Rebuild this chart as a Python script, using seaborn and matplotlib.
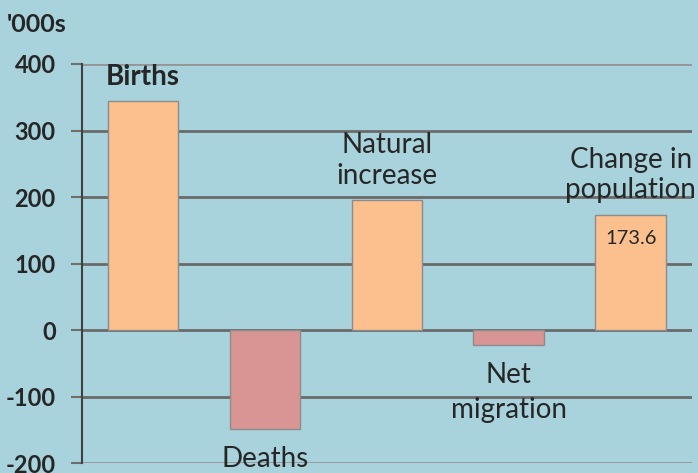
import seaborn as sns
import matplotlib.pyplot as plt

# population change components, thousands
categories = ["Births", "Deaths", "Natural\nincrease", "Net\nmigration", "Change in\npopulation"]
values = [344, -149, 196, -23, 173.6]
value_label = "173.6"
y_ticks = [-200, -100, 0, 100, 200, 300, 400]

bg = "#a8d3dc"
pos_col = "#fcc08f"
neg_col = "#d99594"
colors = [pos_col if v > 0 else neg_col for v in values]

sns.set_style("white")
plt.rcParams["font.family"] = ["Lato", "DejaVu Sans"]

fig = plt.figure(figsize=(6.98, 4.73), dpi=100, facecolor=bg)
ax = fig.add_axes([0.1175, 0.0211, 0.8735, 0.8436], facecolor=bg)

sns.barplot(x=categories, y=values, hue=categories, palette=colors, legend=False,
            width=0.58, edgecolor="#8c8c8c", linewidth=1, saturation=1, ax=ax, zorder=3)

ax.set_ylim(-200, 400)
ax.set_xlim(-0.5, 4.5)
ax.set_yticks(y_ticks)
ax.set_yticklabels([str(t) for t in y_ticks], fontsize=17, fontweight="bold")
ax.set_xticks([])
ax.set_xlabel("")
ax.set_ylabel("")
ax.grid(axis="y", color="#6a6a6a", linewidth=2, zorder=0)
ax.set_axisbelow(True)
gl = ax.get_ygridlines()
gl[0].set_color("#959595")
gl[-1].set_color("#959595")
for s in ["top", "right", "bottom"]:
    ax.spines[s].set_visible(False)
ax.spines["left"].set_color("#404040")
ax.spines["left"].set_linewidth(1.5)
ax.tick_params(axis="y", length=8, width=1.5, color="#6e6e6e", pad=11, left=True)

# category labels above/below each bar
for i, (c, v) in enumerate(zip(categories, values)):
    if v > 0:
        ax.annotate(c, (i, v), xytext=(0, 8), textcoords="offset points",
                    ha="center", va="bottom", fontsize=20, linespacing=1.2,
                    fontweight="bold" if i == 0 else "normal")
    else:
        ax.annotate(c, (i, v), xytext=(0, -12), textcoords="offset points",
                    ha="center", va="top", fontsize=20, linespacing=1.45)

ax.annotate(value_label, (4, values[4]), xytext=(0, -11), textcoords="offset points",
            ha="center", va="top", fontsize=14.5)

fig.text(0.01, 0.949, "'000s", fontsize=18, fontweight="bold", ha="left", va="center")

fig.savefig("out.png", dpi=100, facecolor=bg)
